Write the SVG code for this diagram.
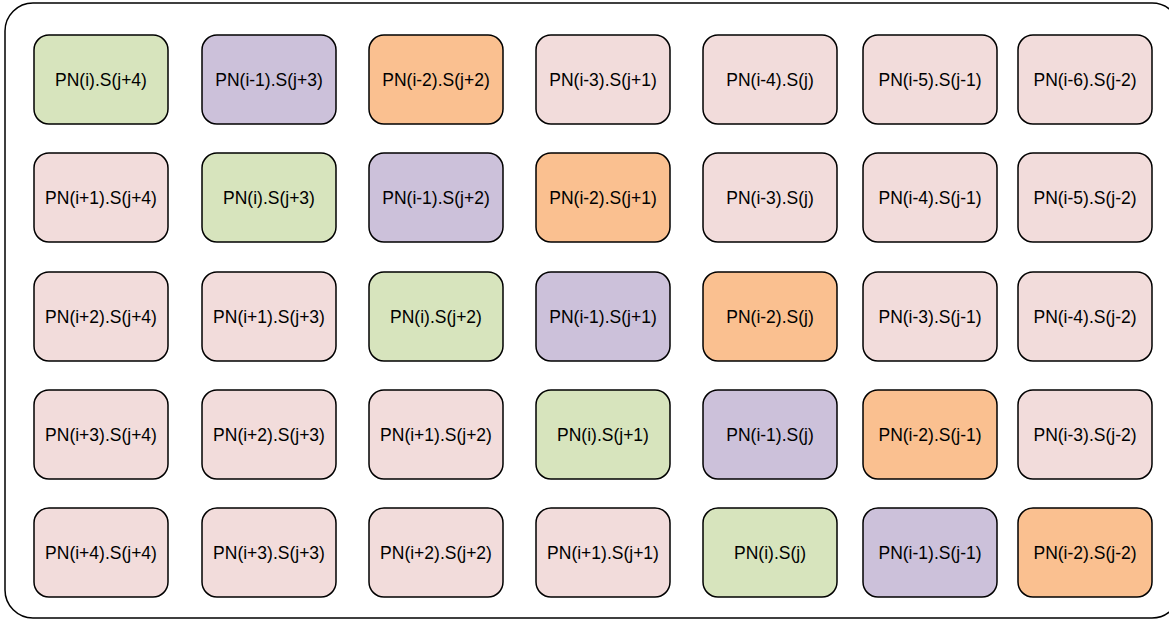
<svg xmlns="http://www.w3.org/2000/svg" width="1169" height="619" viewBox="0 0 1169 619">
<style>
.n rect{stroke:#000;stroke-width:1.5}
.g{fill:#D7E4BD}.p{fill:#CCC1DA}.o{fill:#FAC090}.r{fill:#F2DCDB}
text{font-family:"Liberation Sans",Arial,sans-serif;font-size:17.5px;fill:#000;text-anchor:middle;dominant-baseline:central}
</style>
<rect x="5" y="3" width="1175" height="615" rx="28" fill="#fff" stroke="#000" stroke-width="1.5"/>
<g id="connectors"/>
<g id="n1-1" class="n"><rect class="g" x="34" y="35" width="134" height="89" rx="15"/><text x="101" y="79.5">PN(i).S(j+4)</text></g>
<g id="n1-2" class="n"><rect class="p" x="202" y="35" width="134" height="89" rx="15"/><text x="269" y="79.5">PN(i-1).S(j+3)</text></g>
<g id="n1-3" class="n"><rect class="o" x="369" y="35" width="134" height="89" rx="15"/><text x="436" y="79.5">PN(i-2).S(j+2)</text></g>
<g id="n1-4" class="n"><rect class="r" x="536" y="35" width="134" height="89" rx="15"/><text x="603" y="79.5">PN(i-3).S(j+1)</text></g>
<g id="n1-5" class="n"><rect class="r" x="703" y="35" width="134" height="89" rx="15"/><text x="770" y="79.5">PN(i-4).S(j)</text></g>
<g id="n1-6" class="n"><rect class="r" x="863" y="35" width="134" height="89" rx="15"/><text x="930" y="79.5">PN(i-5).S(j-1)</text></g>
<g id="n1-7" class="n"><rect class="r" x="1018" y="35" width="134" height="89" rx="15"/><text x="1085" y="79.5">PN(i-6).S(j-2)</text></g>

<g id="n2-1" class="n"><rect class="r" x="34" y="153" width="134" height="89" rx="15"/><text x="101" y="197.5">PN(i+1).S(j+4)</text></g>
<g id="n2-2" class="n"><rect class="g" x="202" y="153" width="134" height="89" rx="15"/><text x="269" y="197.5">PN(i).S(j+3)</text></g>
<g id="n2-3" class="n"><rect class="p" x="369" y="153" width="134" height="89" rx="15"/><text x="436" y="197.5">PN(i-1).S(j+2)</text></g>
<g id="n2-4" class="n"><rect class="o" x="536" y="153" width="134" height="89" rx="15"/><text x="603" y="197.5">PN(i-2).S(j+1)</text></g>
<g id="n2-5" class="n"><rect class="r" x="703" y="153" width="134" height="89" rx="15"/><text x="770" y="197.5">PN(i-3).S(j)</text></g>
<g id="n2-6" class="n"><rect class="r" x="863" y="153" width="134" height="89" rx="15"/><text x="930" y="197.5">PN(i-4).S(j-1)</text></g>
<g id="n2-7" class="n"><rect class="r" x="1018" y="153" width="134" height="89" rx="15"/><text x="1085" y="197.5">PN(i-5).S(j-2)</text></g>

<g id="n3-1" class="n"><rect class="r" x="34" y="272" width="134" height="89" rx="15"/><text x="101" y="316.5">PN(i+2).S(j+4)</text></g>
<g id="n3-2" class="n"><rect class="r" x="202" y="272" width="134" height="89" rx="15"/><text x="269" y="316.5">PN(i+1).S(j+3)</text></g>
<g id="n3-3" class="n"><rect class="g" x="369" y="272" width="134" height="89" rx="15"/><text x="436" y="316.5">PN(i).S(j+2)</text></g>
<g id="n3-4" class="n"><rect class="p" x="536" y="272" width="134" height="89" rx="15"/><text x="603" y="316.5">PN(i-1).S(j+1)</text></g>
<g id="n3-5" class="n"><rect class="o" x="703" y="272" width="134" height="89" rx="15"/><text x="770" y="316.5">PN(i-2).S(j)</text></g>
<g id="n3-6" class="n"><rect class="r" x="863" y="272" width="134" height="89" rx="15"/><text x="930" y="316.5">PN(i-3).S(j-1)</text></g>
<g id="n3-7" class="n"><rect class="r" x="1018" y="272" width="134" height="89" rx="15"/><text x="1085" y="316.5">PN(i-4).S(j-2)</text></g>

<g id="n4-1" class="n"><rect class="r" x="34" y="390" width="134" height="89" rx="15"/><text x="101" y="434.5">PN(i+3).S(j+4)</text></g>
<g id="n4-2" class="n"><rect class="r" x="202" y="390" width="134" height="89" rx="15"/><text x="269" y="434.5">PN(i+2).S(j+3)</text></g>
<g id="n4-3" class="n"><rect class="r" x="369" y="390" width="134" height="89" rx="15"/><text x="436" y="434.5">PN(i+1).S(j+2)</text></g>
<g id="n4-4" class="n"><rect class="g" x="536" y="390" width="134" height="89" rx="15"/><text x="603" y="434.5">PN(i).S(j+1)</text></g>
<g id="n4-5" class="n"><rect class="p" x="703" y="390" width="134" height="89" rx="15"/><text x="770" y="434.5">PN(i-1).S(j)</text></g>
<g id="n4-6" class="n"><rect class="o" x="863" y="390" width="134" height="89" rx="15"/><text x="930" y="434.5">PN(i-2).S(j-1)</text></g>
<g id="n4-7" class="n"><rect class="r" x="1018" y="390" width="134" height="89" rx="15"/><text x="1085" y="434.5">PN(i-3).S(j-2)</text></g>

<g id="n5-1" class="n"><rect class="r" x="34" y="508" width="134" height="89" rx="15"/><text x="101" y="552.5">PN(i+4).S(j+4)</text></g>
<g id="n5-2" class="n"><rect class="r" x="202" y="508" width="134" height="89" rx="15"/><text x="269" y="552.5">PN(i+3).S(j+3)</text></g>
<g id="n5-3" class="n"><rect class="r" x="369" y="508" width="134" height="89" rx="15"/><text x="436" y="552.5">PN(i+2).S(j+2)</text></g>
<g id="n5-4" class="n"><rect class="r" x="536" y="508" width="134" height="89" rx="15"/><text x="603" y="552.5">PN(i+1).S(j+1)</text></g>
<g id="n5-5" class="n"><rect class="g" x="703" y="508" width="134" height="89" rx="15"/><text x="770" y="552.5">PN(i).S(j)</text></g>
<g id="n5-6" class="n"><rect class="p" x="863" y="508" width="134" height="89" rx="15"/><text x="930" y="552.5">PN(i-1).S(j-1)</text></g>
<g id="n5-7" class="n"><rect class="o" x="1018" y="508" width="134" height="89" rx="15"/><text x="1085" y="552.5">PN(i-2).S(j-2)</text></g>
</svg>
